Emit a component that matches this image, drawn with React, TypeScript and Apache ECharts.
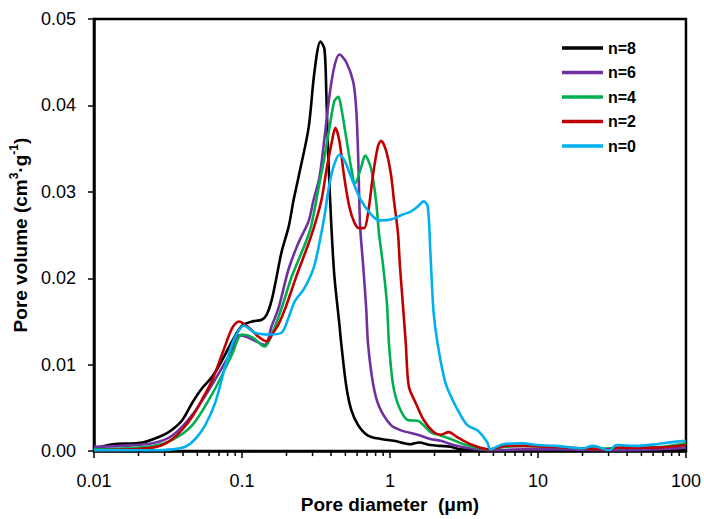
import React, { useEffect, useRef } from "react";
import * as echarts from "echarts";

const seriesNames = ["n=8", "n=6", "n=4", "n=2", "n=0"];
const seriesColors = ["#000000", "#7030A0", "#00B050", "#C00000", "#00B0F0"];

// [pore diameter (µm), pore volume (cm3/g)]
const n8 = [
  [0.01, 0.0003], [0.0134, 0.0008], [0.0213, 0.001], [0.029, 0.0018], [0.0339, 0.0025],
  [0.0396, 0.0036], [0.0462, 0.0056], [0.0539, 0.0073], [0.0629, 0.0086], [0.0734, 0.0105],
  [0.0857, 0.0127], [0.1, 0.0145], [0.117, 0.015], [0.136, 0.0152], [0.147, 0.0158],
  [0.159, 0.0175], [0.172, 0.0203], [0.185, 0.023], [0.207, 0.026], [0.223, 0.029],
  [0.241, 0.0317], [0.282, 0.0374], [0.309, 0.0439], [0.339, 0.0474], [0.361, 0.0465],
  [0.372, 0.0411], [0.384, 0.0336], [0.402, 0.026], [0.421, 0.0203], [0.455, 0.0147],
  [0.469, 0.0124], [0.507, 0.0075], [0.547, 0.0048], [0.61, 0.003], [0.711, 0.0018],
  [0.871, 0.0014], [1.064, 0.0012], [1.38, 0.0008], [1.57, 0.001], [1.88, 0.0007],
  [2.2, 0.0006], [2.57, 0.0005], [3.0, 0.0002], [4.0, 0.0001], [6, 0.0001],
  [10, 0.0001], [20, 0.0001], [50, 0.0001], [100, 0.0003],
];

const n6 = [
  [0.01, 0.0005], [0.0157, 0.0006], [0.0249, 0.0009], [0.0339, 0.0018], [0.0462, 0.0042],
  [0.0629, 0.0077], [0.0857, 0.0117], [0.0955, 0.0134], [0.108, 0.0132], [0.1426, 0.0123],
  [0.159, 0.0145], [0.177, 0.0166], [0.207, 0.0211], [0.241, 0.0241], [0.282, 0.0266],
  [0.304, 0.029], [0.334, 0.0317], [0.361, 0.0362], [0.39, 0.0411], [0.421, 0.0445],
  [0.455, 0.0459], [0.507, 0.045], [0.565, 0.0427], [0.592, 0.0395], [0.61, 0.034],
  [0.629, 0.026], [0.659, 0.0215], [0.691, 0.0165], [0.711, 0.0124], [0.769, 0.0078],
  [0.843, 0.0052], [1.016, 0.003], [1.186, 0.0024], [1.54, 0.0019], [1.88, 0.0014],
  [2.2, 0.0012], [2.69, 0.0007], [3.5, 0.0003], [5, 0.0001], [8, 0.0002],
  [15, 0.0002], [30, 0.0001], [60, 0.0002], [100, 0.0004],
];

const n4 = [
  [0.01, 0.0002], [0.0157, 0.0003], [0.0249, 0.0006], [0.0339, 0.0013], [0.0462, 0.003],
  [0.0629, 0.0066], [0.0734, 0.0088], [0.0857, 0.0112], [0.1, 0.0135], [0.117, 0.0132],
  [0.1426, 0.0121], [0.159, 0.0135], [0.185, 0.0165], [0.217, 0.0202], [0.269, 0.0241],
  [0.295, 0.0262], [0.334, 0.031], [0.361, 0.034], [0.39, 0.0374], [0.421, 0.0405],
  [0.448, 0.041], [0.469, 0.0397], [0.507, 0.0362], [0.547, 0.0328], [0.582, 0.031],
  [0.638, 0.0328], [0.679, 0.0342], [0.745, 0.0327], [0.805, 0.029], [0.843, 0.0252],
  [0.898, 0.0215], [0.955, 0.017], [0.985, 0.0124], [1.047, 0.0078], [1.148, 0.0052],
  [1.32, 0.0036], [1.54, 0.0035], [1.66, 0.0031], [1.88, 0.0022], [2.2, 0.0018],
  [2.57, 0.0014], [3.14, 0.0008], [3.9, 0.0004], [4.55, 0.0002], [6, 0.0005],
  [8, 0.0006], [12, 0.0005], [25, 0.0003], [40, 0.0004], [70, 0.0005], [100, 0.0009],
];

const n2 = [
  [0.01, 0.0001], [0.0183, 0.0002], [0.0249, 0.0004], [0.029, 0.0007], [0.0339, 0.0014],
  [0.0396, 0.0025], [0.0462, 0.004], [0.0539, 0.006], [0.0629, 0.0082], [0.0734, 0.0112],
  [0.0857, 0.0142], [0.0955, 0.015], [0.111, 0.0143], [0.13, 0.0132], [0.147, 0.0127],
  [0.164, 0.0138], [0.177, 0.0147], [0.197, 0.0166], [0.234, 0.0203], [0.295, 0.025],
  [0.344, 0.029], [0.372, 0.0325], [0.402, 0.0355], [0.428, 0.0374], [0.455, 0.0359],
  [0.491, 0.0317], [0.531, 0.0283], [0.573, 0.0265], [0.619, 0.0258], [0.669, 0.0258],
  [0.711, 0.0275], [0.769, 0.032], [0.83, 0.0353], [0.871, 0.0359], [0.94, 0.0348],
  [1.016, 0.032], [1.064, 0.029], [1.133, 0.0252], [1.167, 0.0215], [1.222, 0.017],
  [1.28, 0.0124], [1.34, 0.0075], [1.49, 0.0056], [1.69, 0.0036], [1.97, 0.0022],
  [2.2, 0.0019], [2.49, 0.0022], [2.86, 0.0016], [3.5, 0.0008], [4.08, 0.0004],
  [4.77, 0.0002], [6, 0.0006], [8, 0.0006], [12, 0.0005], [20, 0.0003], [30, 0.0002],
  [35, 0.0004], [60, 0.0004], [100, 0.0007],
];

const n0 = [
  [0.01, 0.0001], [0.0249, 0.0001], [0.0339, 0.0002], [0.0414, 0.0005], [0.0484, 0.0014],
  [0.0565, 0.003], [0.066, 0.0056], [0.077, 0.0098], [0.0857, 0.0124], [0.0955, 0.014],
  [0.103, 0.0145], [0.122, 0.0137], [0.152, 0.0135], [0.185, 0.0137], [0.207, 0.0155],
  [0.227, 0.0173], [0.261, 0.0187], [0.286, 0.02], [0.309, 0.0215], [0.334, 0.0241],
  [0.361, 0.0272], [0.39, 0.0309], [0.421, 0.0332], [0.455, 0.0343], [0.491, 0.0337],
  [0.547, 0.0317], [0.638, 0.029], [0.745, 0.0274], [0.843, 0.0267], [1.016, 0.0268],
  [1.186, 0.0273], [1.38, 0.0277], [1.54, 0.0283], [1.69, 0.0289], [1.8, 0.0283],
  [1.88, 0.0226], [1.97, 0.0161], [2.1, 0.0124], [2.38, 0.0078], [2.86, 0.0048],
  [3.33, 0.003], [3.9, 0.0024], [4.55, 0.001], [4.77, 0.0002], [5.82, 0.0008],
  [7.93, 0.0009], [9.84, 0.0007], [13.4, 0.0006], [20, 0.0003], [23.4, 0.0006],
  [30.4, 0.0001], [33.9, 0.0007], [46.1, 0.0006], [62.9, 0.0008], [85.7, 0.0011],
  [100, 0.0012],
];

const allSeries = [n8, n6, n4, n2, n0];

const xMin = 0.01;
const xMax = 100;
const yMin = 0;
const yMax = 0.05;
const yInterval = 0.01;

const minorTickValues = [
  0.02, 0.03, 0.04, 0.05, 0.06, 0.07, 0.08, 0.09,
  0.2, 0.3, 0.4, 0.5, 0.6, 0.7, 0.8, 0.9,
  2, 3, 4, 5, 6, 7, 8, 9,
  20, 30, 40, 50, 60, 70, 80, 90,
];

const FONT = "'Liberation Sans', Arial, Helvetica, sans-serif";

export default function App() {
  const ref = useRef<HTMLDivElement>(null);

  useEffect(() => {
    if (!ref.current) return;
    document.body.style.margin = "0";
    document.body.style.overflow = "hidden";
    document.documentElement.style.overflow = "hidden";
    const chart = echarts.init(ref.current, undefined, { renderer: "svg", width: 704, height: 519 });

    const lineSeries = allSeries.map((d, i) => ({
      name: seriesNames[i],
      type: "line",
      data: d,
      showSymbol: false,
      symbol: "none",
      smooth: 0.3,
      lineStyle: { color: seriesColors[i], width: 2.6 },
      itemStyle: { color: seriesColors[i] },
      z: 3 + i,
    }));

    const minorTicks = {
      type: "custom",
      silent: true,
      clip: false,
      z: 10,
      data: minorTickValues.map((v) => [v, 0]),
      renderItem: (_params: any, api: any) => {
        const p = api.coord([api.value(0), 0]);
        return {
          type: "line",
          shape: { x1: p[0], y1: p[1], x2: p[0], y2: p[1] + 5 },
          style: { stroke: "#000", lineWidth: 1.5 },
        };
      },
    };

    chart.setOption({
      animation: false,
      backgroundColor: "#ffffff",
      textStyle: { fontFamily: FONT },
      grid: {
        left: 91,
        top: 19,
        width: 596,
        height: 440,
        show: true,
        borderColor: "#000",
        borderWidth: 2.5,
        containLabel: false,
      },
      legend: {
        data: seriesNames,
        orient: "vertical",
        left: 562,
        top: 39,
        icon: "rect",
        itemWidth: 41,
        itemHeight: 3.5,
        itemGap: 6.5,
        padding: 0,
        textStyle: { fontFamily: FONT, fontSize: 16, fontWeight: "bold", color: "#000", lineHeight: 18 },
      },
      xAxis: {
        type: "log",
        logBase: 10,
        min: xMin,
        max: xMax,
        name: "Pore diameter  (μm)",
        nameLocation: "middle",
        nameGap: 37,
        nameTextStyle: { fontFamily: FONT, fontSize: 19, fontWeight: "bold", color: "#000" },
        axisLine: { show: true, lineStyle: { color: "#000", width: 2.5 } },
        axisTick: { show: true, inside: false, length: 7, lineStyle: { color: "#000", width: 1.5 } },
        minorTick: { show: false },
        splitLine: { show: false },
        axisLabel: {
          fontFamily: FONT,
          fontSize: 18,
          color: "#000",
          margin: 21,
          formatter: (v: number) => String(parseFloat(Number(v).toPrecision(3))),
        },
      },
      yAxis: {
        type: "value",
        min: yMin,
        max: yMax,
        interval: yInterval,
        name: "{a|Pore volume (cm}{s|3}{a|·g}{s|-1}{a|)}",
        nameLocation: "middle",
        nameGap: 58,
        nameRotate: 90,
        nameTextStyle: {
          rich: {
            a: { fontFamily: FONT, fontSize: 19, fontWeight: "bold", color: "#000", lineHeight: 22, verticalAlign: "bottom" },
            s: { fontFamily: FONT, fontSize: 12, fontWeight: "bold", color: "#000", lineHeight: 22, verticalAlign: "top", padding: [0, 0, 8, 0] },
          },
        },
        axisLine: { show: true, lineStyle: { color: "#000", width: 2.5 } },
        axisTick: { show: true, inside: false, length: 6, lineStyle: { color: "#000", width: 1.5 } },
        splitLine: { show: false },
        axisLabel: {
          fontFamily: FONT,
          fontSize: 18,
          color: "#000",
          margin: 18,
          formatter: (v: number) => v.toFixed(2),
        },
      },
      series: [...lineSeries, minorTicks],
    });

    return () => chart.dispose();
  }, []);

  return (
    <div
      ref={ref}
      style={{ display: "block", width: 704, height: 519, background: "#fff" }}
    />
  );
}
